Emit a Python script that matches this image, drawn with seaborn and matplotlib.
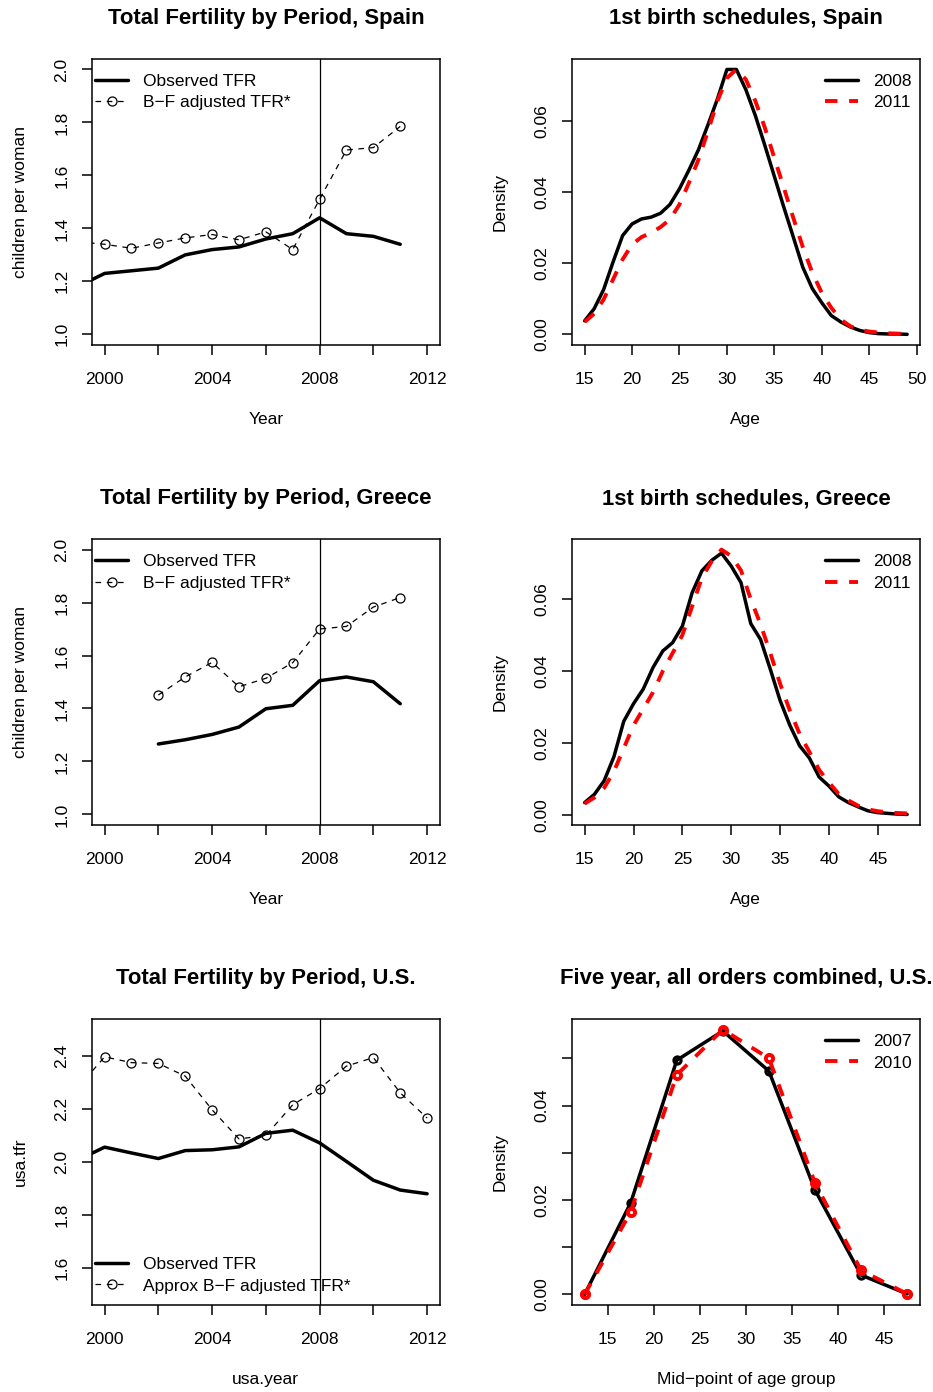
import matplotlib
matplotlib.use("Agg")
import matplotlib.pyplot as plt
import seaborn as sns
import pandas as pd
from matplotlib.lines import Line2D

# ---- values ----
spain_years = list(range(1999, 2012))
spain_obs = [1.18, 1.23, 1.24, 1.25, 1.30, 1.32, 1.33, 1.36, 1.38, 1.44, 1.38, 1.37, 1.34]
spain_bf = [1.35, 1.34, 1.325, 1.345, 1.364, 1.377, 1.357, 1.387, 1.32, 1.51, 1.696, 1.705, 1.785]

greece_years = list(range(2002, 2012))
greece_obs = [1.266, 1.282, 1.302, 1.330, 1.399, 1.412, 1.505, 1.519, 1.501, 1.418]
greece_bf = [1.451, 1.519, 1.574, 1.482, 1.514, 1.573, 1.700, 1.710, 1.783, 1.819]

usa_year = list(range(1999, 2013))
usa_obs = [2.007, 2.056, 2.034, 2.013, 2.043, 2.046, 2.057, 2.108, 2.12, 2.072, 2.002, 1.931, 1.894, 1.88]
usa_bf = [2.28, 2.397, 2.375, 2.372, 2.324, 2.197, 2.087, 2.100, 2.216, 2.277, 2.362, 2.394, 2.261, 2.166]

spain_ages = list(range(15, 50))
spain_2008 = [0.0038, 0.0072, 0.0126, 0.0204, 0.0278, 0.0311, 0.0325, 0.0330, 0.0341, 0.0366,
              0.0410, 0.0463, 0.0520, 0.0590, 0.0663, 0.0746, 0.0746, 0.0689, 0.0616, 0.0532,
              0.0445, 0.0358, 0.0274, 0.0189, 0.0129, 0.0089, 0.0053, 0.0035, 0.0021, 0.0011,
              0.0005, 0.0002, 0.0001, 0.0001, 0.0000]
spain_2011 = [0.0035, 0.0058, 0.0098, 0.0155, 0.0211, 0.0253, 0.0274, 0.0286, 0.0302, 0.0324,
              0.0366, 0.0427, 0.0492, 0.0572, 0.0657, 0.0722, 0.0746, 0.0718, 0.0657, 0.0582,
              0.0497, 0.0413, 0.0328, 0.0246, 0.0174, 0.0117, 0.0075, 0.0042, 0.0023, 0.0013,
              0.0008, 0.0005, 0.0003, 0.0002, 0.0001]

greece_ages = list(range(15, 49))
greece_2008 = [0.0034, 0.0057, 0.0095, 0.0162, 0.0260, 0.0309, 0.0350, 0.0410, 0.0456, 0.0479,
               0.0525, 0.0618, 0.0679, 0.0708, 0.0728, 0.0692, 0.0646, 0.0532, 0.0488, 0.0405,
               0.0318, 0.0249, 0.0192, 0.0158, 0.0105, 0.0080, 0.0050, 0.0034, 0.0022, 0.0011,
               0.0006, 0.0004, 0.0002, 0.0001]
greece_2011 = [0.0031, 0.0048, 0.0075, 0.0121, 0.0185, 0.0249, 0.0295, 0.0341, 0.0400, 0.0450,
               0.0500, 0.0580, 0.0660, 0.0705, 0.0738, 0.0720, 0.0680, 0.0600, 0.0530, 0.0450,
               0.0365, 0.0290, 0.0225, 0.0175, 0.0125, 0.0090, 0.0058, 0.0040, 0.0025, 0.0015,
               0.0010, 0.0007, 0.0005, 0.0004]

usa_mid = [12.5, 17.5, 22.5, 27.5, 32.5, 37.5, 42.5, 47.5]
usa_2007 = [0.0000, 0.0194, 0.0496, 0.0558, 0.0473, 0.0221, 0.0041, 0.0001]
usa_2010 = [0.0000, 0.0175, 0.0465, 0.0561, 0.0500, 0.0236, 0.0051, 0.0001]

sns.set_theme(style="ticks")
plt.rcParams["font.family"] = ["Liberation Sans", "DejaVu Sans"]
plt.rcParams.update({
    "axes.linewidth": 1.1,
    "xtick.major.size": 7.2, "ytick.major.size": 7.2,
    "xtick.major.width": 1.1, "ytick.major.width": 1.1,
    "xtick.major.pad": 12, "ytick.major.pad": 9,
    "xtick.color": "black", "ytick.color": "black",
    "xtick.labelcolor": "black", "ytick.labelcolor": "black",
    "axes.edgecolor": "black", "axes.labelcolor": "black",
    "axes.titlecolor": "black", "text.color": "black",
    "legend.labelcolor": "black",
})

FS = 12.5
TFS = 15.9

fig = plt.figure(figsize=(9.33, 13.92), dpi=100)
lefts = [0.0983, 0.6128]
bottoms = [0.7522, 0.4073, 0.0625]
W, H = 0.3733, 0.2055
axes = [[fig.add_axes([l, b, W, H]) for l in lefts] for b in bottoms]

LEG = dict(frameon=False, fontsize=FS, handlelength=1.9, handletextpad=0.85,
           labelspacing=0.37, borderpad=0, borderaxespad=0, numpoints=1)


def r_lim(vals):
    lo, hi = min(vals), max(vals)
    pad = 0.04 * (hi - lo)
    return lo - pad, hi + pad


def style(ax, title, xlabel, ylabel):
    ax.set_title(title, fontsize=TFS, fontweight="bold", pad=25, color="black")
    ax.set_xlabel(xlabel, fontsize=FS, labelpad=18)
    ax.set_ylabel(ylabel, fontsize=FS, labelpad=19)
    ax.tick_params(labelsize=FS)
    for lab in ax.get_yticklabels():
        lab.set_rotation(90)
        lab.set_va("center")
    for s in ax.spines.values():
        s.set_visible(True)


def tfr_panel(ax, yrs, obs, bf, title, xlabel, ylabel, bf_label, lim, ticks, loc, anchor):
    df = pd.DataFrame({"year": yrs, "obs": obs, "bf": bf})
    sns.lineplot(data=df, x="year", y="obs", ax=ax, color="black", lw=2.5,
                 label="Observed TFR")
    sns.lineplot(data=df, x="year", y="bf", ax=ax, color="black", lw=0.9,
                 linestyle=(0, (4.5, 4.5)), marker="o", ms=6.5, mfc="none",
                 mec="black", mew=0.9, label=bf_label)
    ax.axvline(2008, color="black", lw=0.9)
    ax.set_xlim(r_lim([2000, 2012]))
    ax.set_ylim(r_lim(lim))
    ax.set_xticks([2000, 2002, 2004, 2006, 2008, 2010, 2012])
    ax.set_xticklabels(["2000", "", "2004", "", "2008", "", "2012"])
    ax.set_yticks(ticks)
    ax.set_yticklabels([f"{t:.1f}" for t in ticks])
    ax.legend(loc=loc, bbox_to_anchor=anchor, **LEG)
    style(ax, title, xlabel, ylabel)


def sched_panel(ax, ages, a, b, la, lb, title, xlabel, xticks, yticks, ylabels, markers=False):
    df = pd.DataFrame({"age": ages, "a": a, "b": b})
    mk = dict(marker="o", ms=5.2, mfc="none") if markers else {}
    red_dash = (0, (3.2, 3.0))
    sns.lineplot(data=df, x="age", y="a", ax=ax, color="black", lw=2.5,
                 mec="black", mew=2.2, **mk)
    sns.lineplot(data=df, x="age", y="b", ax=ax, color="red", lw=2.8,
                 linestyle=red_dash, mec="red", mew=2.8, **mk)
    ax.set_xlim(r_lim(ages))
    ax.set_ylim(r_lim(list(a) + list(b)))
    ax.set_xticks(xticks)
    ax.set_xticklabels([str(t) for t in xticks])
    ax.set_yticks(yticks)
    ax.set_yticklabels(ylabels)
    handles = [Line2D([], [], color="black", lw=2.5),
               Line2D([], [], color="red", lw=2.8, linestyle=red_dash)]
    ax.legend(handles, [la, lb], loc="upper right", bbox_to_anchor=(0.976, 0.948), **LEG)
    style(ax, title, xlabel, "Density")


tfr_ticks = [1.0, 1.2, 1.4, 1.6, 1.8, 2.0]
tfr_panel(axes[0][0], spain_years, spain_obs, spain_bf, "Total Fertility by Period, Spain",
          "Year", "children per woman", "B\u2212F adjusted TFR*", [1.0, 2.0], tfr_ticks,
          "upper left", (0.0095, 0.948))
tfr_panel(axes[1][0], greece_years, greece_obs, greece_bf, "Total Fertility by Period, Greece",
          "Year", "children per woman", "B\u2212F adjusted TFR*", [1.0, 2.0], tfr_ticks,
          "upper left", (0.0095, 0.948))
tfr_panel(axes[2][0], usa_year, usa_obs, usa_bf, "Total Fertility by Period, U.S.",
          "usa.year", "usa.tfr", "Approx B\u2212F adjusted TFR*", [1.5, 2.5],
          [1.6, 1.8, 2.0, 2.2, 2.4], "lower left", (0.0095, 0.04))

dens_ticks = [0.0, 0.02, 0.04, 0.06]
sched_panel(axes[0][1], spain_ages, spain_2008, spain_2011, "2008", "2011",
            "1st birth schedules, Spain", "Age", list(range(15, 51, 5)),
            dens_ticks, [f"{t:.2f}" for t in dens_ticks])
sched_panel(axes[1][1], greece_ages, greece_2008, greece_2011, "2008", "2011",
            "1st birth schedules, Greece", "Age", list(range(15, 46, 5)),
            dens_ticks, [f"{t:.2f}" for t in dens_ticks])
us_ticks = [0.0, 0.01, 0.02, 0.03, 0.04, 0.05]
sched_panel(axes[2][1], usa_mid, usa_2007, usa_2010, "2007", "2010",
            "Five year, all orders combined, U.S.", "Mid\u2212point of age group",
            list(range(15, 46, 5)), us_ticks,
            ["0.00", "", "0.02", "", "0.04", ""], markers=True)

fig.savefig("out.png", dpi=100)
